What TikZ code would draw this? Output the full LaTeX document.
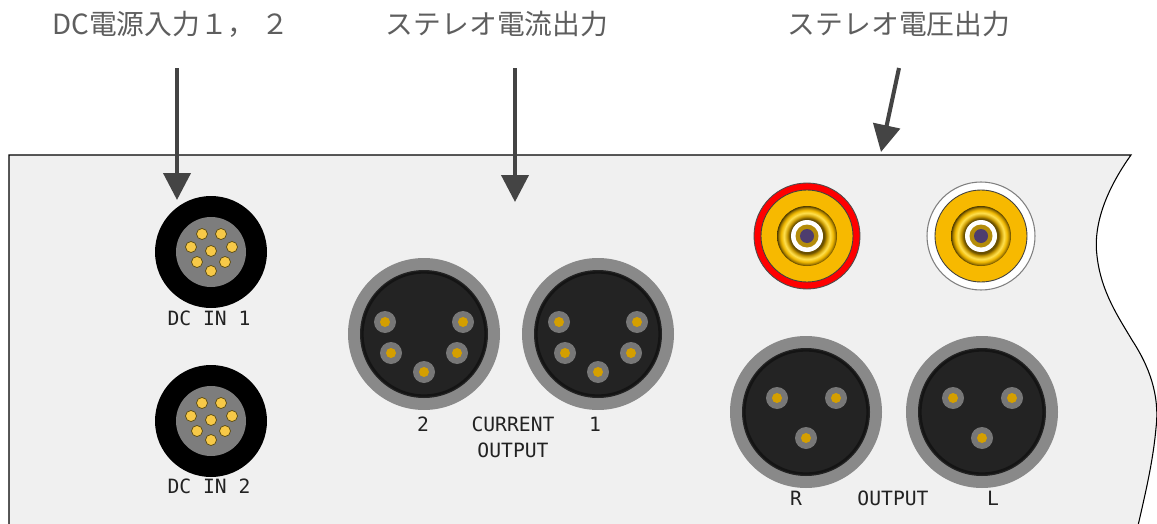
\documentclass[tikz,border=0pt]{standalone}
\usepackage{fontspec}
\setmonofont{DejaVu Sans Mono}
\newfontfamily\jpfont{Noto Sans CJK JP}
\usetikzlibrary{arrows.meta}

\definecolor{panelfill}{HTML}{F0F0F0}
\definecolor{titlegray}{HTML}{5E5E5E}
\definecolor{arrowgray}{HTML}{444444}
\definecolor{labelink}{HTML}{222222}
\definecolor{dcgray}{HTML}{7D7D7D}
\definecolor{dcpinfill}{HTML}{F7C948}
\definecolor{dcpinedge}{HTML}{5A4A10}
\definecolor{shellgray}{HTML}{898989}
\definecolor{shellblack}{HTML}{232323}
\definecolor{shellring}{HTML}{141414}
\definecolor{pinring}{HTML}{777777}
\definecolor{pingold}{HTML}{D49F00}
\definecolor{rcagold}{HTML}{F7B900}
\definecolor{rcared}{HTML}{FF0000}
\definecolor{rcadeep}{HTML}{B48C0A}
\definecolor{rcaviolet}{HTML}{4D3D6E}

% metallic collar of the phono sockets
\pgfdeclareradialshading{rcametal}{\pgfpoint{0bp}{0bp}}{%
  color(0bp)=(rgb,255:red,106;green,80;blue,0);
  color(14.5bp)=(rgb,255:red,106;green,80;blue,0);
  color(16.5bp)=(rgb,255:red,200;green,152;blue,0);
  color(19.2bp)=(rgb,255:red,255;green,224;blue,80);
  color(21.7bp)=(rgb,255:red,240;green,184;blue,0);
  color(23.7bp)=(rgb,255:red,160;green,120;blue,0);
  color(25bp)=(rgb,255:red,74;green,56;blue,0);
  color(50bp)=(rgb,255:red,74;green,56;blue,0)}

\tikzset{
  title/.style={font=\jpfont\fontsize{15.8}{18}\selectfont, text=titlegray, inner sep=0pt},
  plabel/.style={font=\ttfamily\fontsize{11.2}{13}\selectfont, text=labelink, inner sep=0pt},
  callout/.style={draw=arrowgray, line width=2.3pt,
    -{Triangle[length=0.54cm, width=0.54cm]}},
  % round DC power inlet with eight pins
  dcjack/.pic={
    \fill[black] (0,0) circle (56);
    \fill[dcgray] (0,0) circle (35);
    \foreach \p in {(-9,-18),(10,-18),(-20,-5),(0,-1),(21,-5),(-14,10),(14,10),(0,19)}
      \filldraw[fill=dcpinfill, draw=dcpinedge, line width=0.4pt] \p circle (5.5);
  },
  % metal shell shared by the DIN and XLR sockets
  shell/.pic={
    \fill[shellgray] (0,0) circle (76);
    \fill[shellblack] (0,0) circle (64);
    \draw[shellring, line width=1.3pt] (0,0) circle (61.5);
  },
  sockpin/.pic={
    \fill[pinring] (0,0) circle (11);
    \fill[pingold] (0,0) circle (5);
  },
  din/.pic={
    \pic {shell};
    \foreach \p in {(-39,-12),(39,-12),(-33,19),(33,19),(0,38)}
      \pic at \p {sockpin};
  },
  xlr/.pic={
    \pic {shell};
    \foreach \p in {(-29,-14),(30,-14),(0,26)}
      \pic at \p {sockpin};
  },
  rcacore/.pic={
    \filldraw[fill=rcagold, draw=black!75, line width=0.5pt] (0,0) circle (46);
    \shade[shading=rcametal] (0,0) circle (30);
    \fill[white] (0,0) circle (16);
    \fill[rcadeep] (0,0) circle (11.5);
    \fill[rcaviolet] (0,0) circle (7);
  },
  rcaredjack/.pic={
    \filldraw[fill=rcared, draw=black!70, line width=0.5pt] (0,0) circle (53);
    \pic {rcacore};
  },
  rcawhitejack/.pic={
    \filldraw[fill=white, draw=black!50, line width=0.6pt] (0,0) circle (54);
    \pic {rcacore};
  },
}

\begin{document}
\begin{tikzpicture}[x=0.02cm, y=-0.02cm]
\useasboundingbox (0,0) rectangle (1157,524);
\fill[white] (0,0) rectangle (1157,524);

% rear panel, cut off on the right by a wavy edge
\def\paneledge{(9,530) -- (9,155) -- (1131,155)
  .. controls (1106,190) and (1093,225) .. (1097,256)
  .. controls (1101,292) and (1119,318) .. (1132,340)
  .. controls (1149,366) and (1160,395) .. (1156,428)
  .. controls (1153,462) and (1145,495) .. (1137,530)}
\fill[panelfill] \paneledge -- cycle;
\draw[black, line width=0.6pt] \paneledge;

% headings
\node[title] (t1) at (171,24) {DC電源入力１， ２};
\node[title] (t2) at (497,24) {ステレオ電流出力};
\node[title] (t3) at (899,24) {ステレオ電圧出力};

% pointer arrows
\coordinate (a1s) at (177,68);  \coordinate (a1e) at (177,200);
\coordinate (a2s) at (515,68);  \coordinate (a2e) at (515,202);
\coordinate (a3s) at (899,68);  \coordinate (a3e) at (881,152);
\draw[callout] (a1s) -- (a1e);
\draw[callout] (a2s) -- (a2e);
\draw[callout] (a3s) -- (a3e);

% DC inputs
\pic (dcin1) at (211,252) {dcjack};
\pic (dcin2) at (211,421) {dcjack};
\node[plabel] (ldc1) at (209,318) {DC IN 1};
\node[plabel] (ldc2) at (209,486) {DC IN 2};

% current outputs (5-pin DIN)
\pic (cur2) at (424,334) {din};
\pic (cur1) at (598,334) {din};
\node[plabel] (lcur2) at (423,424) {2};
\node[plabel] (lcurrent) at (513,424) {CURRENT};
\node[plabel] (lcur1) at (595,424) {1};
\node[plabel] (lcurout) at (513,450) {OUTPUT};

% voltage outputs: phono sockets
\pic (rcar) at (807,236) {rcaredjack};
\pic (rcal) at (981,236) {rcawhitejack};

% voltage outputs: XLR sockets
\pic (xlrr) at (806,412) {xlr};
\pic (xlrl) at (982,412) {xlr};
\node[plabel] (lr) at (796,498) {R};
\node[plabel] (lvout) at (893,498) {OUTPUT};
\node[plabel] (ll) at (993,498) {L};
\end{tikzpicture}
\end{document}
